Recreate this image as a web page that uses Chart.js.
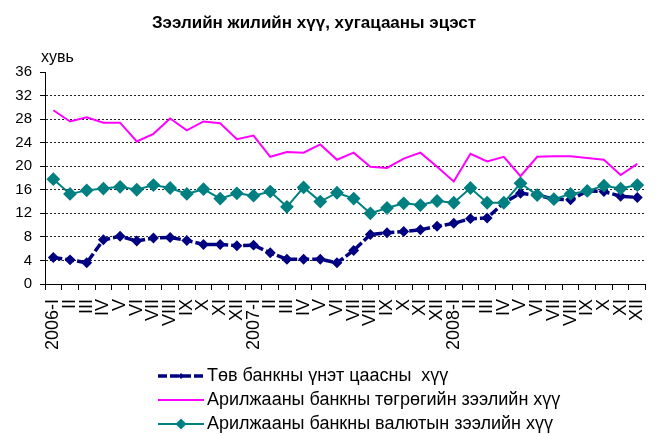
<!DOCTYPE html>
<html>
<head>
<meta charset="utf-8">
<script src="https://cdn.jsdelivr.net/npm/chart.js@4"></script>
<style>
  html, body { margin: 0; padding: 0; overflow: hidden; background: #fff; }
  #wrap { position: absolute; left: 0; top: 0; width: 668px; height: 435px; }
</style>
</head>
<body>
<div id="wrap"><canvas id="rateChart" width="668" height="435"></canvas></div>
<script>
// Зээлийн жилийн хүү, сарын эцэст (2006-2008)
const years = ['2006', '2007', '2008'];
const months = ['I', 'II', 'III', 'IV', 'V', 'VI', 'VII', 'VIII', 'IX', 'X', 'XI', 'XII'];
const labels = [];
years.forEach(y => months.forEach((m, i) => labels.push(i === 0 ? y + '-' + m : m)));

const yTicks = [0, 4, 8, 12, 16, 20, 24, 28, 32, 36];

const billRate = [
  4.5, 4.1, 3.6, 7.5, 8.1, 7.3, 7.8, 7.9, 7.4, 6.7, 6.7, 6.5,
  6.6, 5.3, 4.2, 4.2, 4.2, 3.6, 5.7, 8.4, 8.7, 8.9, 9.2, 9.8,
  10.3, 11.1, 11.2, 13.8, 15.4, 15.1, 14.4, 14.3, 15.8, 15.7, 14.9, 14.7
];
const togrogLoan = [
  29.5, 27.6, 28.3, 27.4, 27.4, 24.2, 25.5, 28.1, 26.1, 27.6, 27.3, 24.6,
  25.2, 21.6, 22.4, 22.3, 23.7, 21.1, 22.3, 19.9, 19.7, 21.3, 22.3, 19.9,
  17.4, 22.1, 20.8, 21.6, 18.3, 21.6, 21.7, 21.7, 21.4, 21.1, 18.5, 20.4
];
const fxLoan = [
  17.8, 15.3, 15.9, 16.2, 16.5, 16.0, 16.8, 16.3, 15.3, 16.1, 14.5, 15.4,
  15.0, 15.7, 13.1, 16.4, 14.0, 15.5, 14.5, 12.0, 12.9, 13.7, 13.4, 14.1,
  13.8, 16.3, 13.8, 13.8, 17.1, 15.1, 14.4, 15.3, 15.8, 16.7, 16.2, 16.8
];

const FONT = '"Liberation Sans", Arial, sans-serif';

// title, unit label and a stacked legend drawn on the canvas
const extras = {
  id: 'extras',
  afterDraw(chart) {
    const ctx = chart.ctx;
    ctx.save();
    ctx.fillStyle = '#000';
    ctx.textBaseline = 'middle';
    ctx.font = 'bold 17px ' + FONT;
    ctx.textAlign = 'center';
    ctx.fillText('Зээлийн жилийн хүү, хугацааны эцэст', 314, 23);
    ctx.font = '16px ' + FONT;
    ctx.textAlign = 'left';
    ctx.fillText('хувь', 41, 58);

    const rowsY = [376, 400, 424];
    chart.data.datasets.forEach((ds, i) => {
      const y = rowsY[i];
      ctx.save();
      ctx.strokeStyle = ds.borderColor;
      ctx.lineWidth = ds.borderWidth;
      ctx.setLineDash(ds.borderDash || []);
      ctx.beginPath();
      ctx.moveTo(158, y);
      ctx.lineTo(204, y);
      ctx.stroke();
      ctx.restore();
      if (ds.pointRadius > 0) {
        const r = ds.pointRadius;
        ctx.fillStyle = ds.pointBackgroundColor;
        ctx.beginPath();
        ctx.moveTo(181, y - r); ctx.lineTo(181 + r, y); ctx.lineTo(181, y + r); ctx.lineTo(181 - r, y);
        ctx.closePath();
        ctx.fill();
      }
      ctx.fillStyle = '#000';
      ctx.font = '18px ' + FONT;
      ctx.fillText(ds.label, 207, y);
    });
    ctx.restore();
  }
};

const ctx = document.getElementById('rateChart').getContext('2d');
const rateChart = new Chart(ctx, {
  type: 'line',
  data: {
    labels: labels,
    datasets: [{
      label: 'Төв банкны үнэт цаасны  хүү',
      data: billRate,
      borderColor: '#000080',
      borderWidth: 3.5,
      borderDash: [9, 3],
      pointStyle: 'rectRot',
      pointRadius: 3,
      pointBackgroundColor: '#000080',
      pointBorderColor: '#000080',
      order: 3
    }, {
      label: 'Арилжааны банкны төгрөгийн зээлийн хүү',
      data: togrogLoan,
      borderColor: '#ff00ff',
      borderWidth: 2,
      pointRadius: 0,
      order: 2
    }, {
      label: 'Арилжааны банкны валютын зээлийн хүү',
      data: fxLoan,
      borderColor: '#008080',
      borderWidth: 2,
      pointStyle: 'rectRot',
      pointRadius: 5.5,
      pointBackgroundColor: '#008080',
      pointBorderColor: '#008080',
      order: 1
    }]
  },
  options: {
    responsive: false,
    animation: false,
    layout: { padding: { top: 72, bottom: 76, left: 0, right: 3 } },
    plugins: {
      legend: { display: false },
      title: { display: false },
      tooltip: { enabled: false }
    },
    scales: {
      x: {
        offset: true,
        grid: {
          offset: true,
          drawOnChartArea: false,
          drawTicks: true,
          tickLength: 6,
          tickColor: '#000'
        },
        border: { color: '#000', width: 1 },
        ticks: {
          autoSkip: false,
          minRotation: 90,
          maxRotation: 90,
          padding: 9,
          color: '#000',
          font: { family: FONT, size: 18 }
        },
        afterFit(scale) { scale.height = 75; }
      },
      y: {
        min: 0,
        max: 36,
        afterBuildTicks(scale) { scale.ticks = yTicks.map(v => ({ value: v })); },
        grid: {
          color: c => (c.tick && (c.tick.value === 0 || c.tick.value === 36)) ? 'rgba(0,0,0,0)' : '#222',
          lineWidth: 1,
          drawTicks: true,
          tickLength: 5,
          tickColor: '#000'
        },
        border: { color: '#000', width: 1, dash: [2, 2] },
        ticks: {
          padding: 8,
          color: '#000',
          font: { family: FONT, size: 15 }
        },
        afterFit(scale) { scale.width = 45; }
      }
    }
  },
  plugins: [extras]
});
</script>
</body>
</html>
